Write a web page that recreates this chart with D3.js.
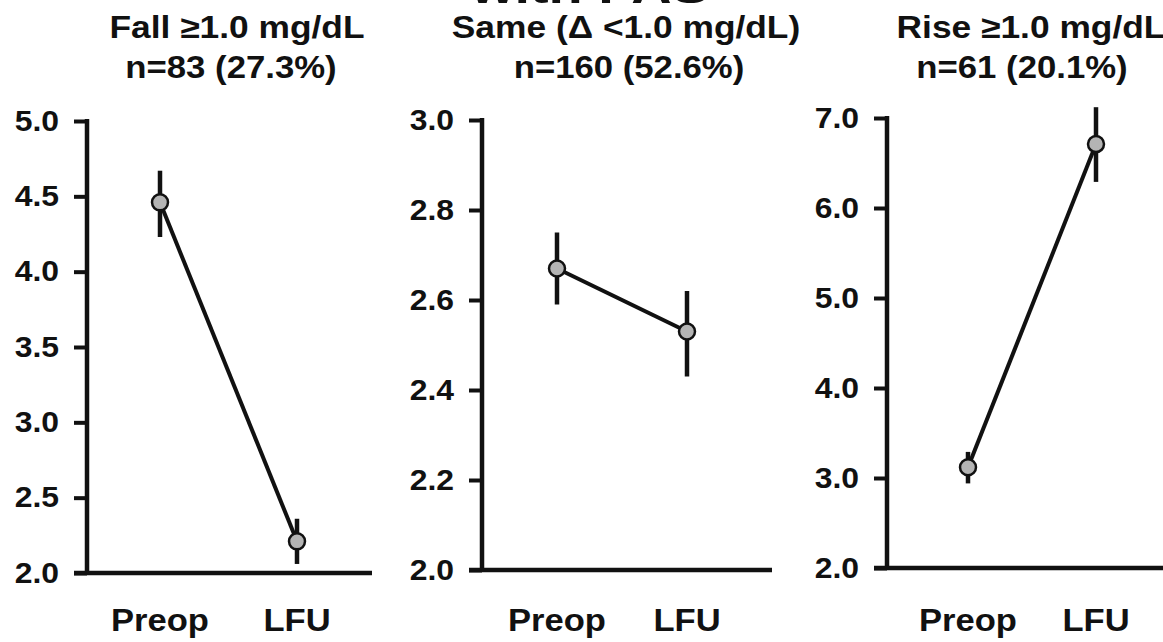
<!DOCTYPE html>
<html>
<head>
<meta charset="utf-8">
<script src="https://cdn.jsdelivr.net/npm/d3@7"></script>
<style>
  body { margin: 0; background: #fff; }
  svg { display: block; font-family: "Liberation Sans", Arial, sans-serif; font-weight: bold; }
</style>
</head>
<body>
<div id="chart"></div>
<script>
// data
const groups = ["Fall \u22651.0 mg/dL", "Same (\u0394 <1.0 mg/dL)", "Rise \u22651.0 mg/dL"]
const counts = ["n=83 (27.3%)", "n=160 (52.6%)", "n=61 (20.1%)"]
const timepoints = ["Preop", "LFU"]
const means = [[4.46, 2.21], [2.67, 2.53], [3.12, 6.71]]
const lower = [[4.23, 2.06], [2.59, 2.43], [2.94, 6.29]]
const upper = [[4.67, 2.36], [2.75, 2.62], [3.29, 7.12]]
const yDomains = [[2, 5], [2, 3], [2, 7]]
const yTicks = [[2, 2.5, 3, 3.5, 4, 4.5, 5], [2, 2.2, 2.4, 2.6, 2.8, 3], [2, 3, 4, 5, 6, 7]]

// panel placement (pixels)
const layout = [
  {axisX: 87,  top: 121, bottom: 573, xEnd: 372,  xRange: [160, 297],  t1: 237, t2: 231},
  {axisX: 482, top: 120, bottom: 570, xEnd: 772,  xRange: [557, 687],  t1: 626, t2: 629},
  {axisX: 887, top: 118, bottom: 568, xEnd: 1163, xRange: [968, 1096], t1: 1031, t2: 1022}
]

const width = 1163, height = 642
const svg = d3.select("#chart").append("svg")
              .attr("width", width)
              .attr("height", height)

// the scanned lettering is a bit wider than Liberation Sans
function stretch(sel, k) {
  sel.each(function () {
    const w = this.getComputedTextLength()
    d3.select(this).attr("textLength", w * k).attr("lengthAdjust", "spacingAndGlyphs")
  })
}

// cut-off heading at the very top
svg.append("text")
   .attr("x", 590).attr("y", 3)
   .attr("text-anchor", "middle")
   .attr("font-size", 44)
   .attr("textLength", 238)
   .attr("lengthAdjust", "spacingAndGlyphs")
   .attr("fill", "#111")
   .text("with PAS")

groups.forEach((g, i) => {
  const L = layout[i]
  const y = d3.scaleLinear().domain(yDomains[i]).range([L.bottom, L.top])
  const x = d3.scalePoint().domain(timepoints).range(L.xRange)
  const panel = svg.append("g")

  panel.append("text")
       .attr("x", L.t1).attr("y", 38)
       .attr("text-anchor", "middle")
       .attr("font-size", 31)
       .attr("fill", "#111")
       .text(g)
       .call(stretch, 1.14)
  panel.append("text")
       .attr("x", L.t2).attr("y", 78)
       .attr("text-anchor", "middle")
       .attr("font-size", 31)
       .attr("fill", "#111")
       .text(counts[i])
       .call(stretch, 1.12)

  const yAxis = d3.axisLeft(y)
                  .tickValues(yTicks[i])
                  .tickFormat(d3.format(".1f"))
                  .tickSize(13)
                  .tickSizeOuter(0)
                  .tickPadding(15)
  const ax = panel.append("g")
                  .attr("transform", "translate(" + L.axisX + ",0)")
                  .call(yAxis)
  ax.select(".domain").attr("stroke", "#111").attr("stroke-width", 4.5)
    .attr("d", "M0," + (L.top - 2) + "V" + L.bottom)
  ax.selectAll(".tick line").attr("stroke", "#111").attr("stroke-width", 4)
  ax.selectAll(".tick text").attr("fill", "#111").attr("font-size", 29)
    .attr("font-family", "Liberation Sans, Arial, sans-serif").attr("font-weight", "bold")
    .call(stretch, 1.1)

  // horizontal baseline
  panel.append("line")
       .attr("x1", L.axisX - 13).attr("x2", L.xEnd)
       .attr("y1", y(yDomains[i][0])).attr("y2", y(yDomains[i][0]))
       .attr("stroke", "#111").attr("stroke-width", 4.5)

  // category labels
  panel.selectAll(".cat").data(timepoints).enter().append("text")
       .attr("x", d => x(d)).attr("y", 631)
       .attr("text-anchor", "middle")
       .attr("font-size", 32)
       .attr("fill", "#111")
       .text(d => d)
       .call(stretch, 1.08)

  const pts = timepoints.map((t, j) => ({t: t, m: means[i][j], lo: lower[i][j], hi: upper[i][j]}))

  panel.selectAll(".err").data(pts).enter().append("line")
       .attr("x1", d => x(d.t)).attr("x2", d => x(d.t))
       .attr("y1", d => y(d.lo)).attr("y2", d => y(d.hi))
       .attr("stroke", "#111").attr("stroke-width", 4.5)

  panel.append("path")
       .datum(pts)
       .attr("fill", "none")
       .attr("stroke", "#111")
       .attr("stroke-width", 4)
       .attr("d", d3.line().x(d => x(d.t)).y(d => y(d.m)))

  panel.selectAll(".pt").data(pts).enter().append("circle")
       .attr("cx", d => x(d.t)).attr("cy", d => y(d.m))
       .attr("r", 8)
       .attr("fill", "#b4b4b4")
       .attr("stroke", "#111")
       .attr("stroke-width", 2.5)
})
</script>
</body>
</html>
